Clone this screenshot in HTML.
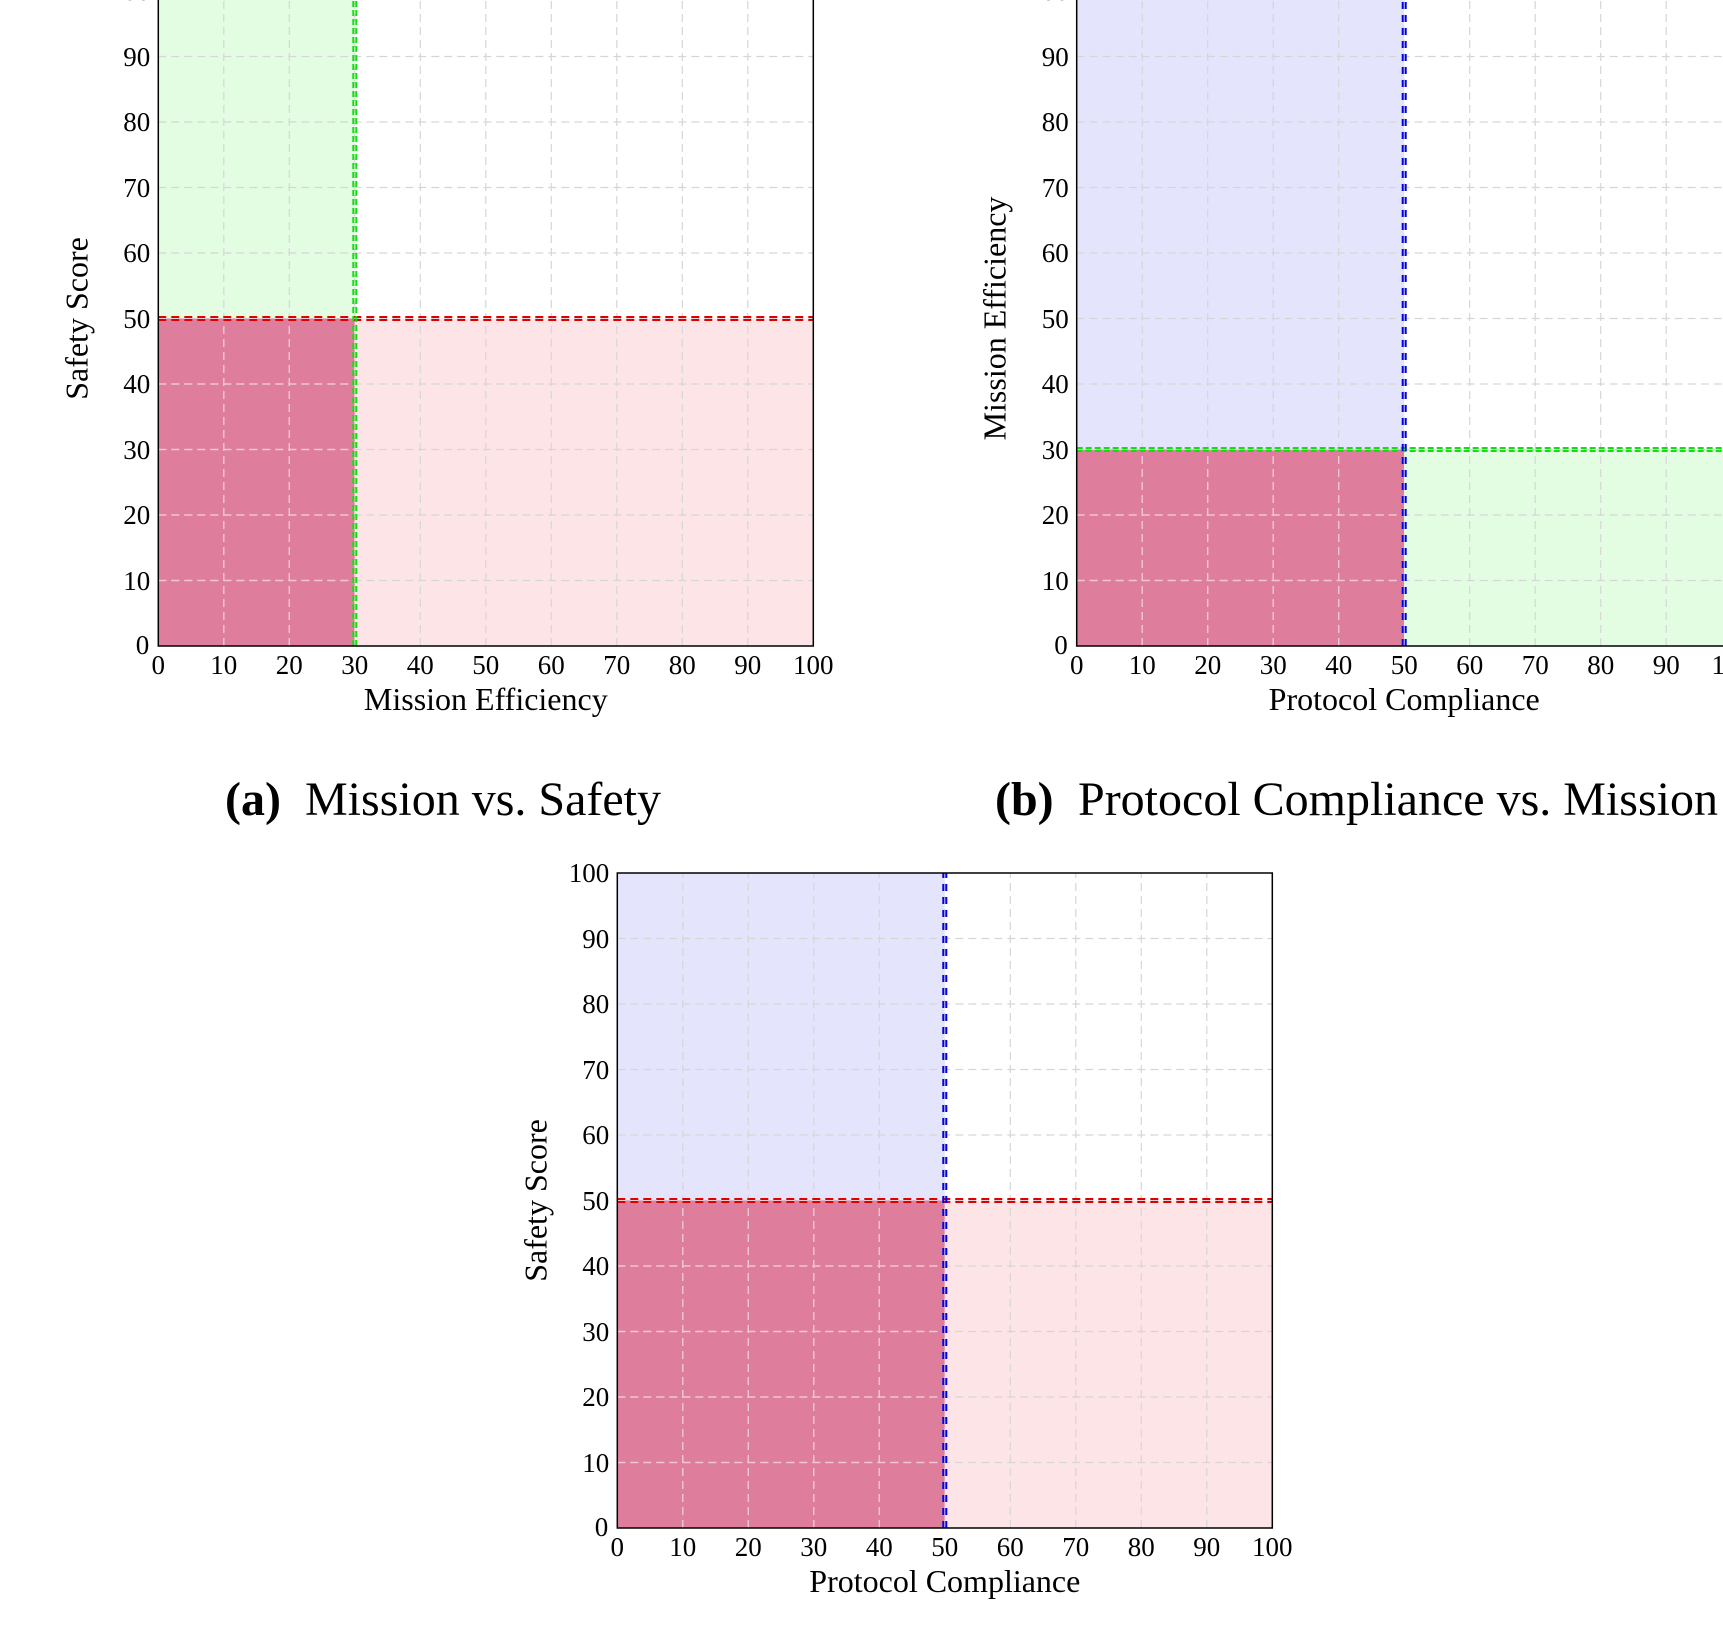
<!DOCTYPE html>
<html><head><meta charset="utf-8"><style>
html,body{margin:0;padding:0;background:#fff;}
svg{display:block;}
text{font-family:"Liberation Serif",serif;fill:#000;}
.t{font-size:27px;}
.lab{font-size:32px;}
</style></head><body>
<svg width="1723" height="1631" viewBox="0 0 1723 1631" xmlns="http://www.w3.org/2000/svg">
<defs>
<path id="grid" d="M65.5 0V-655M131 0V-655M196.5 0V-655M262 0V-655M327.5 0V-655M393 0V-655M458.5 0V-655M524 0V-655M589.5 0V-655M0 -65.5H655M0 -131H655M0 -196.5H655M0 -262H655M0 -327.5H655M0 -393H655M0 -458.5H655M0 -524H655M0 -589.5H655" fill="none" stroke-dasharray="8,5"/>
<g id="xt" class="t" text-anchor="middle">
<text x="0" y="28">0</text><text x="65.5" y="28">10</text><text x="131" y="28">20</text><text x="196.5" y="28">30</text><text x="262" y="28">40</text><text x="327.5" y="28">50</text><text x="393" y="28">60</text><text x="458.5" y="28">70</text><text x="524" y="28">80</text><text x="589.5" y="28">90</text><text x="655" y="28">100</text>
</g>
<g id="yt" class="t" text-anchor="end">
<text x="-9" y="8">0</text><text x="-8" y="-56">10</text><text x="-8" y="-122">20</text><text x="-8" y="-187">30</text><text x="-8" y="-253">40</text><text x="-8" y="-318">50</text><text x="-8" y="-384">60</text><text x="-8" y="-449">70</text><text x="-8" y="-515">80</text><text x="-8" y="-580">90</text><text x="-8" y="-646">100</text>
</g>
<clipPath id="ca"><rect x="0" y="-327.5" width="196.5" height="327.5"/></clipPath>
<clipPath id="cb"><rect x="0" y="-196.5" width="327.5" height="196.5"/></clipPath>
<clipPath id="cc"><rect x="0" y="-327.5" width="327.5" height="327.5"/></clipPath>
</defs>

<!-- Plot (a) -->
<g transform="translate(158.3,646)">
<rect x="0" y="-655" width="196.5" height="327.5" fill="#e3fde3"/>
<rect x="0" y="-327.5" width="196.5" height="327.5" fill="#de7e9c"/>
<rect x="196.5" y="-327.5" width="458.5" height="327.5" fill="#fde4e6"/>
<use href="#grid" stroke="#d6d6d6" stroke-width="1.2"/>
<g clip-path="url(#ca)"><use href="#grid" stroke="#f3c6d3" stroke-width="1.2"/></g>
<path d="M0 -329H655M0 -326H655" stroke="#e00000" stroke-width="2" stroke-dasharray="8,5"/>
<path d="M195 0V-655M198 0V-655" stroke="#10e010" stroke-width="2" stroke-dasharray="6,3"/>
<rect x="0" y="-655" width="655" height="655" fill="none" stroke="#000" stroke-width="1.5"/>
<use href="#xt"/><use href="#yt"/>
<text class="lab" x="327.5" y="64" text-anchor="middle">Mission Efficiency</text>
<text class="lab" transform="translate(-71,-327.5) rotate(-90)" text-anchor="middle">Safety Score</text>
</g>

<!-- Plot (b) -->
<g transform="translate(1076.7,646)">
<rect x="0" y="-655" width="327.5" height="458.5" fill="#e4e4fc"/>
<rect x="0" y="-196.5" width="327.5" height="196.5" fill="#de7e9c"/>
<rect x="327.5" y="-196.5" width="327.5" height="196.5" fill="#e3fde3"/>
<use href="#grid" stroke="#d6d6d6" stroke-width="1.2"/>
<g clip-path="url(#cb)"><use href="#grid" stroke="#f3c6d3" stroke-width="1.2"/></g>
<path d="M0 -198H655M0 -195H655" stroke="#10e010" stroke-width="2" stroke-dasharray="6,3"/>
<path d="M326 0V-655M329 0V-655" stroke="#0000e0" stroke-width="2" stroke-dasharray="7,6"/>
<rect x="0" y="-655" width="655" height="655" fill="none" stroke="#000" stroke-width="1.5"/>
<use href="#xt"/><use href="#yt"/>
<text class="lab" x="327.5" y="64" text-anchor="middle">Protocol Compliance</text>
<text class="lab" transform="translate(-71,-327.5) rotate(-90)" text-anchor="middle">Mission Efficiency</text>
</g>

<!-- Plot (c) -->
<g transform="translate(617.3,1528)">
<rect x="0" y="-655" width="327.5" height="327.5" fill="#e4e4fc"/>
<rect x="0" y="-327.5" width="327.5" height="327.5" fill="#de7e9c"/>
<rect x="327.5" y="-327.5" width="327.5" height="327.5" fill="#fde4e6"/>
<use href="#grid" stroke="#d6d6d6" stroke-width="1.2"/>
<g clip-path="url(#cc)"><use href="#grid" stroke="#f3c6d3" stroke-width="1.2"/></g>
<path d="M0 -329H655M0 -326H655" stroke="#e00000" stroke-width="2" stroke-dasharray="8,5"/>
<path d="M326 0V-655M329 0V-655" stroke="#0000e0" stroke-width="2" stroke-dasharray="7,6"/>
<rect x="0" y="-655" width="655" height="655" fill="none" stroke="#000" stroke-width="1.5"/>
<use href="#xt"/><use href="#yt"/>
<text class="lab" x="327.5" y="64" text-anchor="middle">Protocol Compliance</text>
<text class="lab" transform="translate(-71,-327.5) rotate(-90)" text-anchor="middle">Safety Score</text>
</g>

<!-- Captions -->
<text x="225" y="815" style="font-size:48px"><tspan font-weight="bold">(a)</tspan><tspan x="305">Mission vs. Safety</tspan></text>
<text x="995" y="815" style="font-size:48px"><tspan font-weight="bold">(b)</tspan><tspan x="1078">Protocol Compliance vs. Mission</tspan></text>
</svg>
</body></html>
